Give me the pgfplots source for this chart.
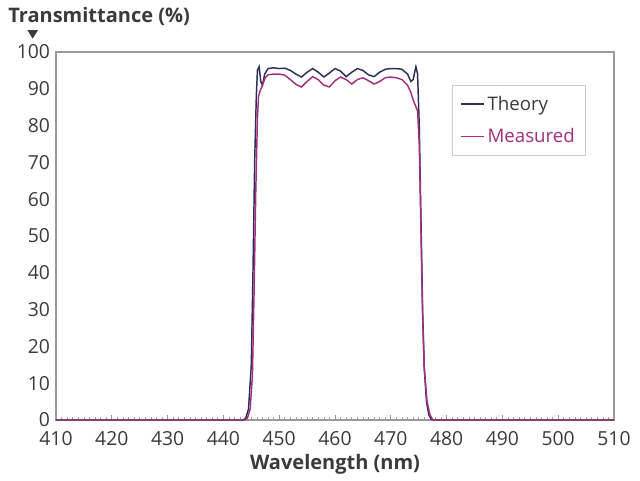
\documentclass[border=0pt]{standalone}
\usepackage{pgfplots}
\pgfplotsset{compat=1.18}
\usepackage{fontspec}
\setmainfont{Open Sans}
\definecolor{theory}{HTML}{2B2D5A}
\definecolor{meas}{HTML}{A3307E}
\definecolor{txt}{HTML}{3A3A3A}
\definecolor{frame}{HTML}{9A9A9A}
\begin{document}
\begin{tikzpicture}
\useasboundingbox (-42pt,-45pt) rectangle (438pt,315pt);
\begin{axis}[
  scale only axis,
  width=418.5pt, height=276pt,
  xmin=410, xmax=510, ymin=0, ymax=100,
  xtick={410,420,...,510}, ytick={0,10,...,100},
  minor x tick num=9,
  tick align=inside,
  xtick pos=bottom, ytick pos=left,
  major y tick style={draw=none},
  major x tick style={frame, line width=0.5pt},
  minor x tick style={frame, line width=0.5pt},
  major tick length=4pt, minor tick length=2.5pt,
  axis line style={frame, line width=0.8pt},
  every axis plot/.append style={line width=1.1pt},
  tick label style={font=\fontsize{14.5}{16}\selectfont, text=txt},
  /pgf/number format/assume math mode=true,
  xticklabel style={yshift=-5pt},
  yticklabel style={xshift=-1pt},
  xlabel={\textbf{Wavelength (nm)}},
  xlabel style={font=\fontsize{15}{17}\selectfont, text=txt, yshift=0pt},
  legend style={at={(0.71,0.91)}, anchor=north west, draw=frame!50, line width=0.5pt,
    font=\fontsize{14}{16}\selectfont, row sep=8pt, inner xsep=6pt, inner ysep=6pt},
  legend cell align=left,
  legend image code/.code={\draw[#1, line width=1.3pt] (0pt,0pt) -- (17pt,0pt);},
]
\addplot[theory] coordinates {
(410,0) (443.5,0) (444.0,0.5) (444.5,3) (445.0,15) (445.3,40) (445.6,70) (445.9,88)
(446.1,95) (446.4,96) (446.7,92) (447.0,91) (447.4,94) (448,95.5) (449,95.7)
(450,95.5) (451,95.6) (452,95) (453,94) (454,93.2) (455,94.5) (456,95.5)
(457,94.5) (458,93.2) (459,94.3) (460,95.5) (461,94.8) (462,93.3) (463,94.5)
(464,95.5) (465,95) (466,93.8) (467,93.3) (468,94.5) (469,95.3) (470,95.5)
(471,95.5) (472,95.3) (473,94) (473.6,92) (474.0,92.5) (474.5,96) (474.8,94)
(475.1,80) (475.4,55) (475.7,30) (476.0,14) (476.4,5) (476.8,1.5) (477.2,0.3)
(477.5,0) (510,0)
};
\addlegendentry{\textcolor{txt}{Theory}}
\addplot[meas] coordinates {
(410,0) (443.8,0) (444.3,0.5) (444.8,3) (445.2,12) (445.5,35) (445.8,62) (446.1,82)
(446.3,88) (446.6,89.5) (447.0,91) (447.5,93) (448,93.8) (449,94) (450,94)
(451,93.7) (452,92.5) (453,91.2) (454,90.5) (455,92) (456,93.3) (457,92.5)
(458,91) (459,90.5) (460,92.2) (461,93.2) (462,92.5) (463,91.3) (464,92.5)
(465,93) (466,92.2) (467,91.3) (468,92) (469,93) (470,93.2) (471,93)
(472,92.5) (473,91) (473.6,89) (474.0,87) (474.4,85.5) (474.8,84) (475.1,75)
(475.4,52) (475.7,28) (476.0,14) (476.5,5) (477.0,1.5) (477.4,0.3) (477.7,0) (510,0)
};
\addlegendentry{\textcolor{meas}{Measured}}
\end{axis}
\node[anchor=west, font=\fontsize{15}{17}\bfseries, text=txt, inner sep=0pt] at (-36pt,303pt) {Transmittance (\%)};
\fill[txt] (-21.5pt,292.5pt) -- (-13.5pt,292.5pt) -- (-17.5pt,286pt) -- cycle;
\end{tikzpicture}
\end{document}
